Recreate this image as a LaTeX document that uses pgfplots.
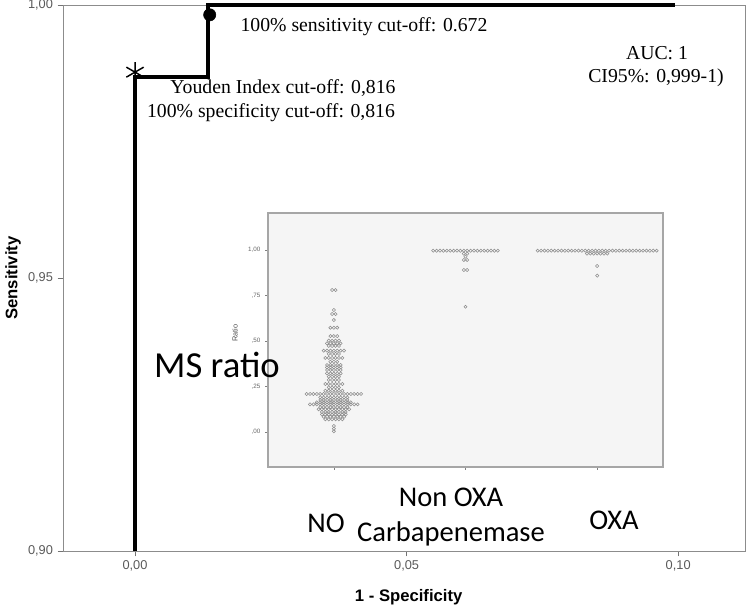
\documentclass[border=0pt]{standalone}
\usepackage{fontspec}
\setmainfont{Liberation Serif}
\newfontfamily\arial{Liberation Sans}
\newfontfamily\calibri{Carlito}
\usepackage{pgfplots}
\usepackage{pgfplotstable}
\pgfplotsset{compat=1.18}

% dot plot rows: category, ratio value, number of dots in the row
\pgfplotstableread{
cat val n
1 0.780 2
1 0.670 1
1 0.648 2
1 0.615 1
1 0.573 3
1 0.527 3
1 0.502 4
1 0.487 5
1 0.473 4
1 0.447 7
1 0.429 4
1 0.407 6
1 0.386 3
1 0.368 5
1 0.355 5
1 0.341 5
1 0.322 5
1 0.304 4
1 0.286 4
1 0.264 6
1 0.245 4
1 0.227 6
1 0.209 17
1 0.190 9
1 0.176 9
1 0.163 11
1 0.152 15
1 0.137 9
1 0.125 10
1 0.110 8
1 0.097 8
1 0.084 7
1 0.070 6
1 0.033 1
1 0.018 1
1 0.004 1
2 0.996 20
2 0.980 2
2 0.963 1
2 0.945 2
2 0.890 2
2 0.688 1
3 0.996 36
3 0.980 7
3 0.912 1
3 0.859 1
}\ratiodata

\pgfdeclareplotmark{dotrow}{%
  \foreach \k in {1,...,\ndots}{%
    \pgfpathcircle{\pgfpoint{(\k-(\ndots+1)/2)*2.55pt}{0pt}}{1.2pt}%
    \pgfusepath{stroke}%
  }%
}

\begin{document}
\begin{tikzpicture}[x=0.75pt,y=0.75pt]
\path[use as bounding box] (0,0) rectangle (750,611);

\begin{axis}[
  at={(47.25pt,45pt)}, anchor=south west,
  scale only axis,
  width=511.5pt, height=409.5pt,
  xmin=-0.01326, xmax=0.1123,
  ymin=0.90, ymax=1.00,
  clip=false,
  xtick pos=bottom, ytick pos=left,
  xtick={0,0.05,0.10},
  xticklabels={{0,00},{0,05},{0,10}},
  ytick={0.90,0.95,1.00},
  yticklabels={{0,90},{0,95},{1,00}},
  tick align=outside,
  major tick length=4pt,
  tick style={black!55},
  axis line style={black!45},
  tick label style={font=\arial\fontsize{9.6}{11}\selectfont, text=black!65},
  xlabel={1 - Specificity},
  ylabel={Sensitivity},
  xlabel style={font=\arial\bfseries\fontsize{12.5}{14}\selectfont,
    at={(axis description cs:0.5,0)}, anchor=center, yshift=-34.5pt, xshift=3.5pt},
  ylabel style={font=\arial\bfseries\fontsize{12.5}{14}\selectfont,
    at={(axis description cs:0,0.5)}, anchor=center, yshift=37.5pt},
]
\addplot[black, line width=2.5pt] coordinates {
  (0,0.90) (0,0.98681) (0.01344,0.98681) (0.01344,1.00) (0.0994,1.00)};
\addplot[only marks, mark=*, mark size=4.6pt, black] coordinates {(0.01375,0.9982)};
\addplot[only marks, mark=asterisk, mark size=7.5pt, black, line width=1.1pt]
  coordinates {(0,0.9877)};
\end{axis}

\begin{axis}[
  at={(201pt,108pt)}, anchor=south west,
  scale only axis,
  width=296.25pt, height=190.5pt,
  xmin=0.5, xmax=3.5,
  ymin=-0.192, ymax=1.203,
  axis background/.style={fill=black!4},
  axis line style={black!35, line width=0.8pt},
  xtick pos=bottom, ytick pos=left,
  xtick={1,2,3}, xticklabels={},
  ytick={0,0.25,0.5,0.75,1},
  yticklabels={{,00},{,25},{,50},{,75},{1,00}},
  tick align=outside,
  major tick length=2.25pt,
  tick style={black!50},
  y tick label style={font=\arial\fontsize{4.7}{6}\selectfont, text=black!60},
  ylabel={Ratio},
  ylabel style={font=\arial\fontsize{5.5}{6}\selectfont, text=black!70,
    at={(axis description cs:0,0.528)}, anchor=center, yshift=24.75pt},
]
\addplot[scatter, only marks, mark=dotrow, draw=black!45, line width=0.4pt,
  point meta=explicit symbolic,
  scatter/@pre marker code/.code={\edef\ndots{\pgfplotspointmeta}\scope},
  scatter/@post marker code/.code={\endscope}]
  table[x=cat, y=val, meta=n] {\ratiodata};
\end{axis}

\node[font=\fontsize{14.8}{17}\selectfont] at (364,584) {100\% sensitivity cut-off: 0.672};
\node[font=\fontsize{14.8}{17}\selectfont] at (283,523) {Youden Index cut-off: 0,816};
\node[font=\fontsize{14.8}{17}\selectfont] at (271,498) {100\% specificity cut-off: 0,816};
\node[font=\fontsize{14.8}{17}\selectfont] at (657,558) {AUC: 1};
\node[font=\fontsize{14.8}{17}\selectfont] at (656,533) {CI95\%: 0,999-1)};

\node[font=\calibri\fontsize{27.5}{30}\selectfont] at (217,246) {MS ratio};
\node[font=\calibri\fontsize{21.4}{26}\selectfont] at (326,88) {NO};
\node[font=\calibri\fontsize{21.4}{26}\selectfont, align=center] at (451,94) {Non OXA\\Carbapenemase};
\node[font=\calibri\fontsize{21.4}{26}\selectfont] at (614,91) {OXA};
\end{tikzpicture}
\end{document}
